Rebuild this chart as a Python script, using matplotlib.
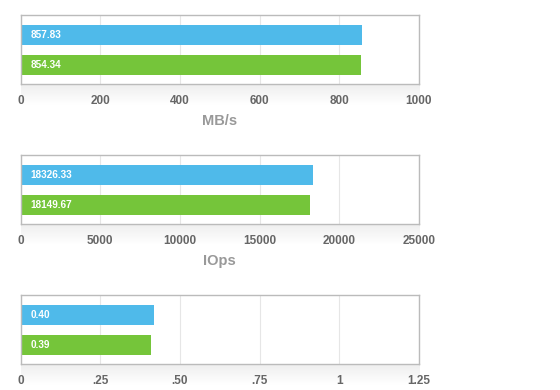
import numpy as np
import matplotlib
matplotlib.use('Agg')
import matplotlib.pyplot as plt

plt.rcParams['font.family'] = ['Liberation Sans', 'DejaVu Sans']

# data
series = ['run A', 'run B']
mbs = [857.83, 854.34]
iops = [18326.33, 18149.67]
lat_bars = [0.42, 0.41]
lat_labels = ['0.40', '0.39']
mbs_ticks = [0, 200, 400, 600, 800, 1000]
iops_ticks = [0, 5000, 10000, 15000, 20000, 25000]
lat_ticks = [0, 0.25, 0.5, 0.75, 1, 1.25]
lat_ticklabels = ['0', '.25', '.50', '.75', '1', '1.25']

colors = ['#4fbaea', '#75c53a']

fig = plt.figure(figsize=(5.6, 3.9), dpi=100)

panels = [
    (mbs, ['%.2f' % v for v in mbs], mbs_ticks, [str(t) for t in mbs_ticks], 'MB/s', 1 - 84/390),
    (iops, ['%.2f' % v for v in iops], iops_ticks, [str(t) for t in iops_ticks], 'IOps', 1 - 224/390),
    (lat_bars, lat_labels, lat_ticks, lat_ticklabels, None, 1 - 364/390),
]

left = 20.5/560
width = 398.5/560
height = 68.7/390

for vals, labels, ticks, ticklabels, xlabel, bottom in panels:
    # soft shadow under the box
    sh = fig.add_axes([left, bottom - 22/390, width, 22/390], zorder=0)
    grad = np.linspace(0.07, 0, 50).reshape(-1, 1)
    sh.imshow(np.ones((50, 1, 4)) * np.array([0, 0, 0, 1]) * 0 + np.dstack([np.zeros((50, 1)), np.zeros((50, 1)), np.zeros((50, 1)), grad]),
              aspect='auto', extent=[0, 1, 0, 1], interpolation='bilinear')
    sh.axis('off')

    ax = fig.add_axes([left, bottom, width, height], zorder=1)
    ax.set_facecolor('white')
    ypos = np.arange(len(vals))
    ax.barh(ypos, vals, height=0.657, color=colors, zorder=2)
    for y, lab in zip(ypos, labels):
        ax.annotate(lab, (0, y), xytext=(7.2, 0), textcoords='offset points',
                    va='center', ha='left', color='white', fontsize=7.2, fontweight='bold')
    ax.set_xlim(ticks[0], ticks[-1])
    ax.set_ylim(1.638, -0.652)
    ax.set_yticks([])
    ax.set_xticks(ticks)
    ax.set_xticklabels(ticklabels, color='#666666', fontsize=8.5, fontweight='bold')
    ax.tick_params(axis='x', length=0, pad=8)
    ax.grid(axis='x', color='#e6e6e6', linewidth=0.8, zorder=0)
    ax.set_axisbelow(True)
    for s in ax.spines.values():
        s.set_color('#bbbbbb')
        s.set_linewidth(1)
    if xlabel:
        ax.set_xlabel(xlabel, color='#999999', fontsize=10.5, fontweight='bold', labelpad=5)

fig.savefig('out.png', dpi=100, facecolor='white')
